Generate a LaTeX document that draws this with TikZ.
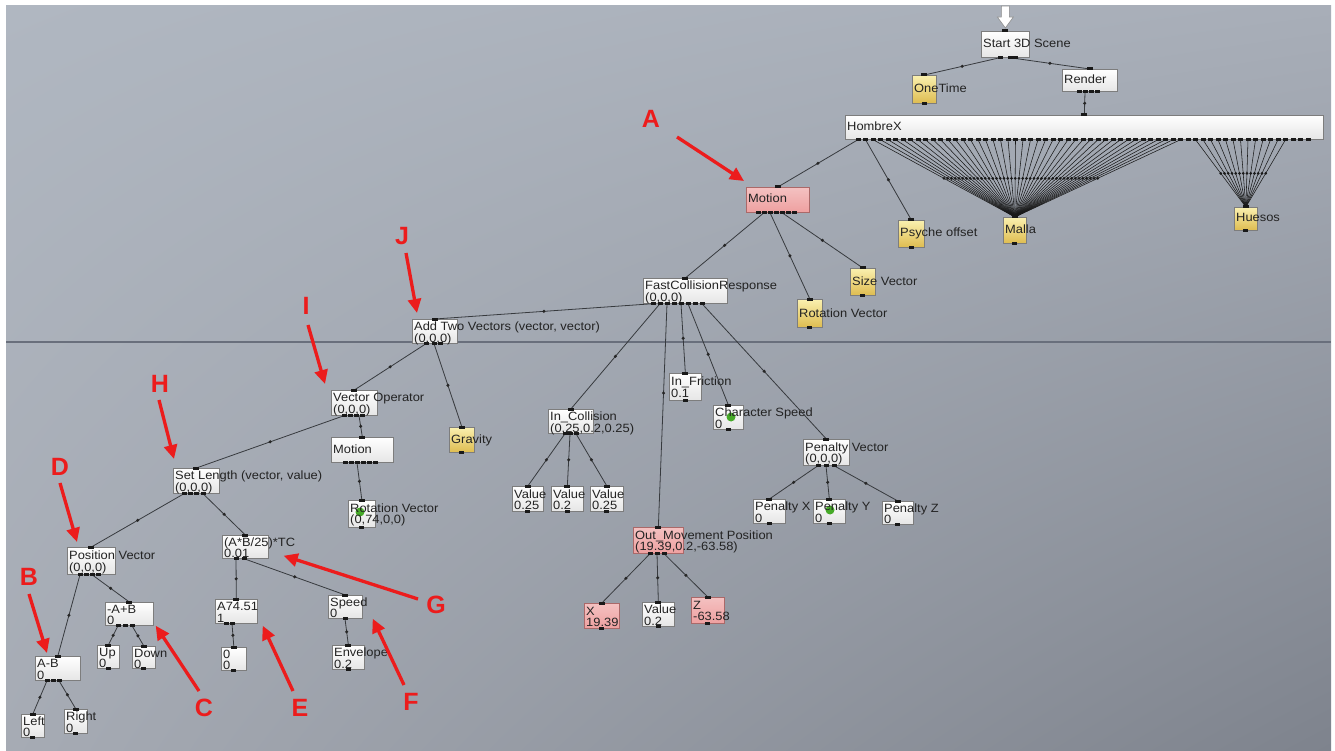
\documentclass[tikz,border=0pt]{standalone}
\usepackage{fontspec}
\setmainfont{Liberation Sans}
\newfontfamily\nodefont[FakeStretch=1.075]{Liberation Sans}
\usetikzlibrary{arrows.meta,positioning,calc,shadings}
\definecolor{bgtl}{RGB}{176,183,193}
\definecolor{bgtr}{RGB}{168,174,184}
\definecolor{bgbl}{RGB}{166,171,180}
\definecolor{bgbr}{RGB}{126,131,141}
\definecolor{rulec}{RGB}{105,111,124}
\definecolor{wirec}{RGB}{55,58,62}
\definecolor{boxline}{RGB}{125,125,125}
\definecolor{pinkfill}{RGB}{238,160,160}
\definecolor{pinkline}{RGB}{170,105,105}
\definecolor{icontop}{RGB}{250,240,175}
\definecolor{iconbot}{RGB}{222,188,80}
\definecolor{blobgreen}{RGB}{70,170,40}
\definecolor{annored}{RGB}{236,28,28}
\definecolor{txt}{RGB}{35,35,35}
\tikzset{
  gbox/.style={draw=boxline, line width=0.7pt, top color=white, bottom color=black!10, anchor=north west, inner sep=0pt},
  pinkbox/.style={gbox, draw=pinkline, top color=pinkfill!65!white, bottom color=pinkfill},
  iconbox/.style={gbox, top color=icontop, bottom color=iconbot},
  lbl/.style={anchor=base west, inner sep=0pt, text=txt, font=\nodefont\fontsize{12}{12}\selectfont},
  wire/.style={draw=wirec, line width=0.8pt},
  fanwire/.style={draw=black!90, line width=0.55pt},
  wdot/.style={circle, fill=black!85, inner sep=0pt, minimum size=3.4pt},
  fandot/.style={circle, fill=black!90, inner sep=0pt, minimum size=3pt},
  portc/.style={fill=black!90},
  letter/.style={text=annored, font=\fontsize{25}{25}\selectfont\bfseries, inner sep=0pt},
  pointer/.style={-{Triangle[length=14pt,width=13pt]}, draw=annored, line width=3.3pt}
}
% input square on top, output squares along the bottom
\newcommand{\gports}[2]{%
  \fill[portc] ([shift={(-3,-1.5)}]#1.north) rectangle ++(6,3);
  \foreach \px in {#2} \fill[portc] ([shift={(\px-2.5,-1.5)}]#1.south west) rectangle ++(5,3);
}

\begin{document}
\begin{tikzpicture}[x=1pt,y=-1pt]
  \useasboundingbox (0,0) rectangle (1335,751);
  \fill[white] (0,0) rectangle (1335,751);
  \shade[upper left=bgtl, upper right=bgtr, lower left=bgbl, lower right=bgbr] (6,6) rectangle (1331,751);
  \draw[rulec, line width=1.6pt] (6,342) -- (1331,342);

  % boxes
  \node[gbox, minimum width=48, minimum height=26] (start) at (981,31) {};
  \node[iconbox, minimum width=24, minimum height=28] (onetime) at (912,75) {};
  \node[gbox, minimum width=55, minimum height=22] (render) at (1062,69) {};
  \node[gbox, minimum width=478, minimum height=24] (hombrex) at (845,115) {};
  \node[pinkbox, minimum width=63, minimum height=25] (motiona) at (746,187) {};
  \node[iconbox, minimum width=26, minimum height=27] (psyche) at (898,220) {};
  \node[iconbox, minimum width=23, minimum height=26] (malla) at (1003,217) {};
  \node[iconbox, minimum width=23, minimum height=23] (huesos) at (1234,207) {};
  \node[gbox, minimum width=84, minimum height=25] (fcr) at (643,278) {};
  \node[iconbox, minimum width=25, minimum height=27] (sizevec) at (850,268) {};
  \node[iconbox, minimum width=25, minimum height=28] (rotveca) at (797,299) {};
  \node[gbox, minimum width=45, minimum height=24] (addvec) at (412,319) {};
  \node[gbox, minimum width=46, minimum height=25] (vecop) at (331,390) {};
  \node[iconbox, minimum width=25, minimum height=25] (gravity) at (449,427) {};
  \node[gbox, minimum width=62, minimum height=25] (motionb) at (331,437) {};
  \node[gbox, minimum width=27, minimum height=27] (rotvecb) at (348,500) {};
  \node[gbox, minimum width=46, minimum height=25] (setlen) at (173,468) {};
  \node[gbox, minimum width=48, minimum height=27] (posvec) at (67,547) {};
  \node[gbox, minimum width=46, minimum height=23] (abtc) at (222,535) {};
  \node[gbox, minimum width=45, minimum height=24] (amb) at (35,656) {};
  \node[gbox, minimum width=48, minimum height=23] (bma) at (105,602) {};
  \node[gbox, minimum width=23, minimum height=23] (left) at (21,714) {};
  \node[gbox, minimum width=23, minimum height=24] (right) at (64,709) {};
  \node[gbox, minimum width=22, minimum height=23] (up) at (97,645) {};
  \node[gbox, minimum width=23, minimum height=22] (down) at (132,646) {};
  \node[gbox, minimum width=42, minimum height=24] (afix) at (215,599) {};
  \node[gbox, minimum width=25, minimum height=23] (zero) at (221,647) {};
  \node[gbox, minimum width=34, minimum height=23] (speed) at (328,595) {};
  \node[gbox, minimum width=32, minimum height=24] (envel) at (332,645) {};
  \node[gbox, minimum width=45, minimum height=24] (incol) at (548,409) {};
  \node[gbox, minimum width=31, minimum height=25] (vala) at (512,486) {};
  \node[gbox, minimum width=32, minimum height=25] (valb) at (551,486) {};
  \node[gbox, minimum width=33, minimum height=25] (valc) at (590,486) {};
  \node[gbox, minimum width=32, minimum height=27] (infric) at (669,373) {};
  \node[gbox, minimum width=30, minimum height=24] (charsp) at (713,405) {};
  \node[gbox, minimum width=46, minimum height=26] (penvec) at (803,439) {};
  \node[gbox, minimum width=32, minimum height=24] (penx) at (753,499) {};
  \node[gbox, minimum width=32, minimum height=24] (peny) at (813,499) {};
  \node[gbox, minimum width=31, minimum height=23] (penz) at (882,501) {};
  \node[pinkbox, minimum width=50, minimum height=26] (outmov) at (633,527) {};
  \node[pinkbox, minimum width=35, minimum height=25] (outx) at (584,603) {};
  \node[gbox, minimum width=32, minimum height=24] (outval) at (642,602) {};
  \node[pinkbox, minimum width=33, minimum height=26] (outz) at (691,597) {};

  % green icons
  \fill[blobgreen] ([shift={(12,12)}]rotvecb.north west) circle (4.5);
  \fill[blobgreen] ([shift={(18,12)}]charsp.north west) circle (4.5);
  \fill[blobgreen] ([shift={(17,11)}]peny.north west) circle (4.5);

  % labels
  \node[lbl] at ([shift={(2,17)}]start.north west) {Start 3D Scene};
  \node[lbl] at ([shift={(2,18)}]onetime.north west) {OneTime};
  \node[lbl] at ([shift={(2,15)}]render.north west) {Render};
  \node[lbl] at ([shift={(2,16)}]hombrex.north west) {HombreX};
  \node[lbl] at ([shift={(2,16)}]motiona.north west) {Motion};
  \node[lbl] at ([shift={(2,17)}]psyche.north west) {Psyche offset};
  \node[lbl] at ([shift={(2,17)}]malla.north west) {Malla};
  \node[lbl] at ([shift={(2,15)}]huesos.north west) {Huesos};
  \node[lbl] at ([shift={(2,11.5)}]fcr.north west) {FastCollisionResponse};
  \node[lbl] at ([shift={(2,23)}]fcr.north west) {(0,0,0)};
  \node[lbl] at ([shift={(2,17)}]sizevec.north west) {Size Vector};
  \node[lbl] at ([shift={(2,18)}]rotveca.north west) {Rotation Vector};
  \node[lbl] at ([shift={(2,11.5)}]addvec.north west) {Add Two Vectors (vector, vector)};
  \node[lbl] at ([shift={(2,23)}]addvec.north west) {(0,0,0)};
  \node[lbl] at ([shift={(2,11.5)}]vecop.north west) {Vector Operator};
  \node[lbl] at ([shift={(2,23)}]vecop.north west) {(0,0,0)};
  \node[lbl] at ([shift={(2,16)}]gravity.north west) {Gravity};
  \node[lbl] at ([shift={(2,16)}]motionb.north west) {Motion};
  \node[lbl] at ([shift={(2,12)}]rotvecb.north west) {Rotation Vector};
  \node[lbl] at ([shift={(2,23.5)}]rotvecb.north west) {(0,74,0,0)};
  \node[lbl] at ([shift={(2,11.5)}]setlen.north west) {Set Length (vector, value)};
  \node[lbl] at ([shift={(2,23)}]setlen.north west) {(0,0,0)};
  \node[lbl] at ([shift={(2,12.5)}]posvec.north west) {Position Vector};
  \node[lbl] at ([shift={(2,24)}]posvec.north west) {(0,0,0)};
  \node[lbl] at ([shift={(2,11)}]abtc.north west) {(A*B/25)*TC};
  \node[lbl] at ([shift={(2,22.5)}]abtc.north west) {0.01};
  \node[lbl] at ([shift={(2,11.5)}]amb.north west) {A-B};
  \node[lbl] at ([shift={(2,23)}]amb.north west) {0};
  \node[lbl] at ([shift={(2,11)}]bma.north west) {-A+B};
  \node[lbl] at ([shift={(2,22.5)}]bma.north west) {0};
  \node[lbl] at ([shift={(2,11)}]left.north west) {Left};
  \node[lbl] at ([shift={(2,22.5)}]left.north west) {0};
  \node[lbl] at ([shift={(2,11.5)}]right.north west) {Right};
  \node[lbl] at ([shift={(2,23)}]right.north west) {0};
  \node[lbl] at ([shift={(2,11)}]up.north west) {Up};
  \node[lbl] at ([shift={(2,22.5)}]up.north west) {0};
  \node[lbl] at ([shift={(2,11)}]down.north west) {Down};
  \node[lbl] at ([shift={(2,22)}]down.north west) {0};
  \node[lbl] at ([shift={(2,11.5)}]afix.north west) {A74.51};
  \node[lbl] at ([shift={(2,23)}]afix.north west) {1};
  \node[lbl] at ([shift={(2,11)}]zero.north west) {0};
  \node[lbl] at ([shift={(2,22.5)}]zero.north west) {0};
  \node[lbl] at ([shift={(2,11)}]speed.north west) {Speed};
  \node[lbl] at ([shift={(2,22.5)}]speed.north west) {0};
  \node[lbl] at ([shift={(2,11.5)}]envel.north west) {Envelope};
  \node[lbl] at ([shift={(2,23)}]envel.north west) {0.2};
  \node[lbl] at ([shift={(2,11.5)}]incol.north west) {In\_Collision};
  \node[lbl] at ([shift={(2,23)}]incol.north west) {(0.25,0.2,0.25)};
  \node[lbl] at ([shift={(2,12)}]vala.north west) {Value};
  \node[lbl] at ([shift={(2,23.5)}]vala.north west) {0.25};
  \node[lbl] at ([shift={(2,12)}]valb.north west) {Value};
  \node[lbl] at ([shift={(2,23.5)}]valb.north west) {0.2};
  \node[lbl] at ([shift={(2,12)}]valc.north west) {Value};
  \node[lbl] at ([shift={(2,23.5)}]valc.north west) {0.25};
  \node[lbl] at ([shift={(2,12.5)}]infric.north west) {In\_Friction};
  \node[lbl] at ([shift={(2,24)}]infric.north west) {0.1};
  \node[lbl] at ([shift={(2,11.5)}]charsp.north west) {Character Speed};
  \node[lbl] at ([shift={(2,23)}]charsp.north west) {0};
  \node[lbl] at ([shift={(2,12)}]penvec.north west) {Penalty Vector};
  \node[lbl] at ([shift={(2,23.5)}]penvec.north west) {(0,0,0)};
  \node[lbl] at ([shift={(2,11.5)}]penx.north west) {Penalty X};
  \node[lbl] at ([shift={(2,23)}]penx.north west) {0};
  \node[lbl] at ([shift={(2,11.5)}]peny.north west) {Penalty Y};
  \node[lbl] at ([shift={(2,23)}]peny.north west) {0};
  \node[lbl] at ([shift={(2,11)}]penz.north west) {Penalty Z};
  \node[lbl] at ([shift={(2,22.5)}]penz.north west) {0};
  \node[lbl] at ([shift={(2,12)}]outmov.north west) {Out\_Movement Position};
  \node[lbl] at ([shift={(2,23.5)}]outmov.north west) {(19.39,0.2,-63.58)};
  \node[lbl] at ([shift={(2,12)}]outx.north west) {X};
  \node[lbl] at ([shift={(2,23.5)}]outx.north west) {19.39};
  \node[lbl] at ([shift={(2,11.5)}]outval.north west) {Value};
  \node[lbl] at ([shift={(2,23)}]outval.north west) {0.2};
  \node[lbl] at ([shift={(2,12)}]outz.north west) {Z};
  \node[lbl] at ([shift={(2,23.5)}]outz.north west) {-63.58};

  % wires
  \draw[wire] ([shift={(19,0)}]start.south west) -- node[wdot]{} (onetime.north);
  \draw[wire] ([shift={(29,0)}]start.south west) -- node[wdot]{} (render.north);
  \draw[wire] ([shift={(23,0)}]render.south west) -- node[wdot]{} (hombrex.north);
  \draw[wire] ([shift={(13,0)}]hombrex.south west) -- node[wdot]{} (motiona.north);
  \draw[wire] ([shift={(20.5,0)}]hombrex.south west) -- node[wdot]{} (psyche.north);
  \foreach \px in {28,35.5,...,338}
    \draw[fanwire] ([shift={(\px,0)}]hombrex.south west) -- node[fandot]{} (malla.north);
  \foreach \px in {350.5,358,...,441}
    \draw[fanwire] ([shift={(\px,0)}]hombrex.south west) -- node[fandot]{} (huesos.north);
  \draw[wire] ([shift={(18,0)}]motiona.south west) -- node[wdot]{} (fcr.north);
  \draw[wire] ([shift={(24,0)}]motiona.south west) -- node[wdot]{} (rotveca.north);
  \draw[wire] ([shift={(36,0)}]motiona.south west) -- node[wdot]{} (sizevec.north);
  \draw[wire] ([shift={(10,0)}]fcr.south west) -- node[wdot]{} (addvec.north);
  \draw[wire] ([shift={(17,0)}]fcr.south west) -- node[wdot]{} (incol.north);
  \draw[wire] ([shift={(24,0)}]fcr.south west) -- node[wdot, pos=0.4]{} (outmov.north);
  \draw[wire] ([shift={(38,0)}]fcr.south west) -- node[wdot]{} (infric.north);
  \draw[wire] ([shift={(45,0)}]fcr.south west) -- node[wdot]{} (charsp.north);
  \draw[wire] ([shift={(59,0)}]fcr.south west) -- node[wdot]{} (penvec.north);
  \draw[wire] ([shift={(14,0)}]addvec.south west) -- node[wdot]{} (vecop.north);
  \draw[wire] ([shift={(22,0)}]addvec.south west) -- node[wdot]{} (gravity.north);
  \draw[wire] ([shift={(13,0)}]vecop.south west) -- node[wdot]{} (setlen.north);
  \draw[wire] ([shift={(28,0)}]vecop.south west) -- node[wdot]{} (motionb.north);
  \draw[wire] ([shift={(26,0)}]motionb.south west) -- node[wdot]{} (rotvecb.north);
  \draw[wire] ([shift={(11,0)}]setlen.south west) -- node[wdot]{} (posvec.north);
  \draw[wire] ([shift={(30,0)}]setlen.south west) -- node[wdot]{} (abtc.north);
  \draw[wire] ([shift={(13,0)}]posvec.south west) -- node[wdot]{} (amb.north);
  \draw[wire] ([shift={(25,0)}]posvec.south west) -- node[wdot]{} (bma.north);
  \draw[wire] ([shift={(12,0)}]amb.south west) -- node[wdot]{} (left.north);
  \draw[wire] ([shift={(24,0)}]amb.south west) -- node[wdot]{} (right.north);
  \draw[wire] ([shift={(13,0)}]bma.south west) -- node[wdot]{} (up.north);
  \draw[wire] ([shift={(27,0)}]bma.south west) -- node[wdot]{} (down.north);
  \draw[wire] ([shift={(14,0)}]abtc.south west) -- node[wdot]{} (afix.north);
  \draw[wire] ([shift={(22,0)}]abtc.south west) -- node[wdot]{} (speed.north);
  \draw[wire] ([shift={(17,0)}]afix.south west) -- node[wdot]{} (zero.north);
  \draw[wire] ([shift={(17,0)}]speed.south west) -- node[wdot]{} (envel.north);
  \draw[wire] ([shift={(17,0)}]incol.south west) -- node[wdot]{} (vala.north);
  \draw[wire] ([shift={(22,0)}]incol.south west) -- node[wdot]{} (valb.north);
  \draw[wire] ([shift={(28,0)}]incol.south west) -- node[wdot]{} (valc.north);
  \draw[wire] ([shift={(15,0)}]penvec.south west) -- node[wdot]{} (penx.north);
  \draw[wire] ([shift={(23,0)}]penvec.south west) -- node[wdot]{} (peny.north);
  \draw[wire] ([shift={(31,0)}]penvec.south west) -- node[wdot]{} (penz.north);
  \draw[wire] ([shift={(17,0)}]outmov.south west) -- node[wdot]{} (outx.north);
  \draw[wire] ([shift={(24,0)}]outmov.south west) -- node[wdot]{} (outval.north);
  \draw[wire] ([shift={(31,0)}]outmov.south west) -- node[wdot]{} (outz.north);

  % ports
  \gports{start}{19,29,34}
  \gports{onetime}{12}
  \gports{render}{17,23,29,35}
  \gports{hombrex}{13,20.5,...,463}
  \gports{motiona}{12,18,24,30,36,42,48}
  \gports{psyche}{13}
  \gports{malla}{11.5}
  \gports{huesos}{11.5}
  \gports{fcr}{10,17,24,31,38,45,52,59}
  \gports{sizevec}{12.5}
  \gports{rotveca}{12.5}
  \gports{addvec}{14,22,28}
  \gports{vecop}{13,19,25,31}
  \gports{gravity}{12.5}
  \gports{motionb}{14,20,26,32,38,44}
  \gports{rotvecb}{13.5}
  \gports{setlen}{11,17,23,30}
  \gports{posvec}{13,19,25,31}
  \gports{abtc}{14,22}
  \gports{amb}{12,18,24}
  \gports{bma}{13,20,27}
  \gports{left}{11.5}
  \gports{right}{11.5}
  \gports{up}{11}
  \gports{down}{11.5}
  \gports{afix}{11,17}
  \gports{zero}{12.5}
  \gports{speed}{17}
  \gports{envel}{16}
  \gports{incol}{17,22,28}
  \gports{vala}{15.5}
  \gports{valb}{16}
  \gports{valc}{16.5}
  \gports{infric}{16}
  \gports{charsp}{15}
  \gports{penvec}{15,23,31}
  \gports{penx}{16}
  \gports{peny}{16}
  \gports{penz}{15.5}
  \gports{outmov}{17,24,31}
  \gports{outx}{17.5}
  \gports{outval}{16}
  \gports{outz}{16.5}

  % entry arrow
  \draw[fill=white, draw=black!45, line width=0.6pt] ([shift={(-4,-25)}]start.north) -- ([shift={(4,-25)}]start.north) -- ([shift={(4,-14)}]start.north) -- ([shift={(8,-14)}]start.north) -- ([shift={(0,-3)}]start.north) -- ([shift={(-8,-14)}]start.north) -- ([shift={(-4,-14)}]start.north) -- cycle;

  % annotations
  \node[letter] (labA) at (651,119) {A};
  \node[letter] (labJ) at (402,236) {J};
  \node[letter] (labI) at (306,306) {I};
  \node[letter] (labH) at (160,384) {H};
  \node[letter] (labD) at (60,467) {D};
  \node[letter] (labB) at (29,577) {B};
  \node[letter] (labC) at (204,708) {C};
  \node[letter] (labE) at (300,708) {E};
  \node[letter] (labF) at (411,702) {F};
  \node[letter] (labG) at (436,605) {G};
  \draw[pointer] ([shift={(26,18)}]labA.center) -- ([shift={(-2,-6)}]motiona.north west);
  \draw[pointer] ([shift={(4,17)}]labJ.center) -- ([shift={(5,-6)}]addvec.north west);
  \draw[pointer] ([shift={(2,19)}]labI.center) -- ([shift={(-6,-6)}]vecop.north west);
  \draw[pointer] ([shift={(-1,16)}]labH.center) -- ([shift={(1,-9)}]setlen.north west);
  \draw[pointer] ([shift={(0,16)}]labD.center) -- ([shift={(10,-5)}]posvec.north west);
  \draw[pointer] ([shift={(0,17)}]labB.center) -- ([shift={(12,-3)}]amb.north west);
  \draw[pointer] ([shift={(-5,-17)}]labC.center) -- ([shift={(2,0)}]bma.south east);
  \draw[pointer] ([shift={(-7,-17)}]labE.center) -- ([shift={(5,2)}]afix.south east);
  \draw[pointer] ([shift={(-7,-17)}]labF.center) -- ([shift={(10,0)}]speed.south east);
  \draw[pointer] ([shift={(-18,-6)}]labG.center) -- ([shift={(15,-3)}]abtc.south east);
\end{tikzpicture}
\end{document}
